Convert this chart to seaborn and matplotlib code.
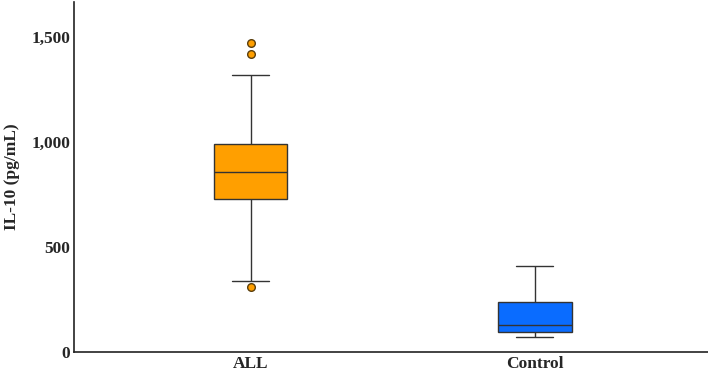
import matplotlib
matplotlib.use("Agg")
import matplotlib.pyplot as plt
from matplotlib.ticker import StrMethodFormatter
import pandas as pd
import seaborn as sns

sns.set_style("white")
plt.rcParams['font.family'] = ['Liberation Serif', 'DejaVu Serif']

all_values = [306, 335, 600, 725, 780, 820, 857, 900, 950, 990, 1319, 1419, 1468]
control_values = [68, 80, 95, 110, 125, 180, 238, 320, 406]
groups = ["ALL", "Control"]
colors = {"ALL": "#FF9F00", "Control": "#0A6CFF"}
yticks = [0, 500, 1000, 1500]

df = pd.DataFrame({
    "group": ["ALL"] * len(all_values) + ["Control"] * len(control_values),
    "value": all_values + control_values,
})

fig, ax = plt.subplots(figsize=(7.08, 3.72), dpi=100)
sns.boxplot(data=df, x="group", y="value", hue="group", order=groups,
            palette=colors, saturation=1, width=0.26, linewidth=1.0,
            linecolor="#333333", whis=1.5, dodge=False, legend=False, ax=ax,
            flierprops=dict(marker="o", markersize=5.5, markerfacecolor="#FF9F00",
                            markeredgecolor="#5a3e0c", markeredgewidth=1.0))

ax.set_xlim(-0.62, 1.61)
ax.set_ylim(0, 1665)
ax.set_yticks(yticks)
ax.yaxis.set_major_formatter(StrMethodFormatter("{x:,.0f}"))
ax.set_xlabel("")
ax.set_ylabel("IL-10 (pg/mL)", fontsize=12.5, fontweight="bold", labelpad=8)
ax.tick_params(axis="both", length=0, labelsize=12.5, pad=3)
for lab in ax.get_xticklabels() + ax.get_yticklabels():
    lab.set_fontweight("bold")
sns.despine(ax=ax)
for s in ["left", "bottom"]:
    ax.spines[s].set_color("#222222")
    ax.spines[s].set_linewidth(1.2)

fig.subplots_adjust(left=0.105, right=1.0, bottom=0.055, top=0.995)
fig.savefig("out.png", dpi=100)
